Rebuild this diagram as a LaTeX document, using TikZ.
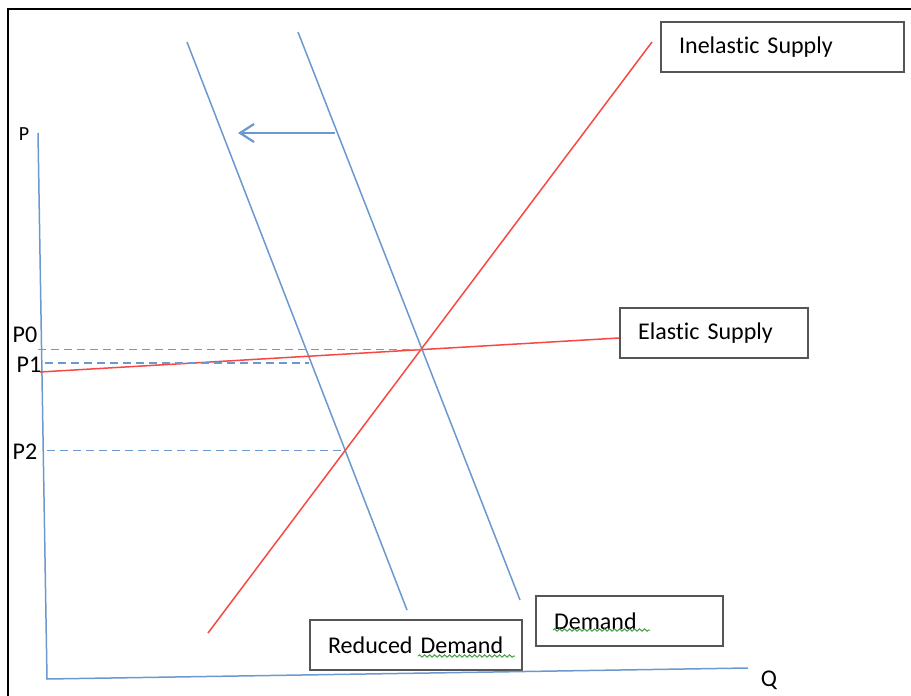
\documentclass[tikz,border=0pt]{standalone}
\usepackage{fontspec}
\setmainfont{Carlito}[RawFeature={-liga,-clig,-calt}]
\usetikzlibrary{arrows.meta,intersections,decorations.pathmorphing}
\definecolor{lineblue}{RGB}{106,152,207}
\definecolor{supred}{RGB}{246,72,68}
\definecolor{boxgray}{RGB}{85,85,85}
\definecolor{spellgreen}{RGB}{70,160,70}

\tikzset{
  dem/.style={draw=lineblue, line width=0.75pt},
  sup/.style={draw=supred, line width=0.75pt},
  guide/.style={draw=lineblue, line width=0.9pt, dash pattern=on 4pt off 2.5pt},
  tag/.style={draw=boxgray, line width=1.1pt, fill=white, anchor=north west,
    inner xsep=9pt, inner ysep=0pt, minimum height=25pt, align=left,
    font=\fontsize{12}{14}\selectfont},
  axlabel/.style={inner sep=0pt, font=\fontsize{12}{14}\selectfont},
  wavy/.style={draw=spellgreen, line width=0.5pt, decorate,
    decoration={snake, amplitude=0.6pt, segment length=2.5pt}}
}

\begin{document}
\begin{tikzpicture}[x=0.5pt,y=-0.5pt]
\useasboundingbox (0,0) rectangle (911,696);
\draw[line width=1pt] (8,696) -- (8,9) -- (911,9);

\node[tag, text width=103.5pt] (insup) at (660,21) {Inelastic Supply};
\node[tag, text width=76pt] (elsup) at (619,307) {Elastic Supply};
\node[tag, text width=75.5pt] (dembox) at (535,595) {Demand};
\node[tag, text width=88pt] (redbox) at (309,619) {Reduced Demand};

\coordinate (ptop) at (38,133);
\coordinate (origin) at (47,679);
\coordinate (qend) at (748,668);
\draw[dem] (ptop) -- (origin) -- (qend);
\node[axlabel, font=\fontsize{10}{12}\selectfont] (plab) at (24,134) {P};
\node[axlabel] (qlab) at (769,680) {Q};

\coordinate (dtop) at (298,32);
\coordinate (dbot) at (520,600);
\coordinate (rtop) at (187,42);
\coordinate (rbot) at (407,610);
\coordinate (itop) at (652,42);
\coordinate (ibot) at (208,633);
\coordinate (eleft) at (40,372);
\coordinate (eright) at (619,338);
\draw[dem, name path=demand] (dtop) -- (dbot);
\draw[dem, name path=reduced] (rtop) -- (rbot);
\draw[sup, name path=inelastic] (ibot) -- (itop);
\draw[sup, name path=elastic] (eleft) -- (eright);

\path[name intersections={of=demand and elastic, by=e0}];
\path[name intersections={of=reduced and elastic, by=e1}];
\path[name intersections={of=reduced and inelastic, by=e2}];

\coordinate (p1) at (45,363);
\draw[guide] (e0 -| ptop) -- (e0);
\draw[guide] (p1) -- (p1 -| e1);
\draw[guide] (e2 -| origin) -- (e2);

\foreach \name/\x/\y in {P0/25/335, P1/29/365, P2/25/452}
  \node[axlabel] (lab\name) at (\x,\y) {\name};

\coordinate (shiftfrom) at (335,133);
\coordinate (shiftto) at (238,133);
\draw[dem, line width=1.1pt, -{Straight Barb[length=7pt,width=9pt]}] (shiftfrom) -- (shiftto);

\draw[wavy] (553,630) -- (650,630);
\draw[wavy] (418,656) -- (515,656);
\end{tikzpicture}
\end{document}
